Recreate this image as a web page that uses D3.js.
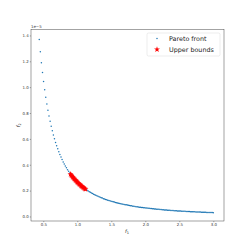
<!DOCTYPE html>
<html>
<head>
<meta charset="utf-8">
<script src="https://cdn.jsdelivr.net/npm/d3@7"></script>
<style>
  body { margin: 0; background: #fff; }
  svg { font-family: "DejaVu Sans", sans-serif; display: block; }
</style>
</head>
<body>
<div id="chart"></div>
<script>
// Pareto front, f2 in units of 1e-5
var paretoF1 = [0.440,0.456,0.472,0.488,0.504,0.520,0.536,0.552,0.568,0.584,0.600,0.616,0.632,0.648,0.664,0.680,0.696,0.712,0.728,0.744,
  0.760,0.776,0.792,0.808,0.824,0.840,0.856,0.872,0.888,0.904,0.920,0.936,0.952,0.968,0.984,1.000,1.016,1.032,1.048,1.064,
  1.080,1.096,1.112,1.128,1.144,1.160,1.176,1.192,1.208,1.224,1.240,1.256,1.272,1.288,1.304,1.320,1.336,1.352,1.368,1.384,
  1.400,1.416,1.432,1.448,1.464,1.480,1.496,1.512,1.528,1.544,1.560,1.576,1.592,1.608,1.624,1.640,1.656,1.672,1.688,1.704,
  1.720,1.736,1.752,1.768,1.784,1.800,1.816,1.832,1.848,1.864,1.880,1.896,1.912,1.928,1.944,1.960,1.976,1.992,2.008,2.024,
  2.040,2.056,2.072,2.088,2.104,2.120,2.136,2.152,2.168,2.184,2.200,2.216,2.232,2.248,2.264,2.280,2.296,2.312,2.328,2.344,
  2.360,2.376,2.392,2.408,2.424,2.440,2.456,2.472,2.488,2.504,2.520,2.536,2.552,2.568,2.584,2.600,2.616,2.632,2.648,2.664,
  2.680,2.696,2.712,2.728,2.744,2.760,2.776,2.792,2.808,2.824,2.840,2.856,2.872,2.888,2.904,2.920,2.936,2.952,2.968,2.984,3.000];
var paretoF2 = [1.369,1.274,1.189,1.113,1.043,0.980,0.922,0.870,0.821,0.777,0.736,0.698,0.663,0.631,0.601,0.573,0.547,0.523,0.500,0.479,
  0.459,0.440,0.422,0.406,0.390,0.376,0.362,0.349,0.336,0.324,0.313,0.302,0.292,0.283,0.274,0.265,0.257,0.249,0.241,0.234,
  0.227,0.221,0.214,0.208,0.202,0.197,0.192,0.187,0.182,0.177,0.172,0.168,0.164,0.160,0.156,0.152,0.148,0.145,0.142,0.138,
  0.135,0.132,0.129,0.126,0.124,0.121,0.118,0.116,0.114,0.111,0.109,0.107,0.105,0.102,0.100,0.099,0.097,0.095,0.093,0.091,
  0.090,0.088,0.086,0.085,0.083,0.082,0.080,0.079,0.078,0.076,0.075,0.074,0.072,0.071,0.070,0.069,0.068,0.067,0.066,0.065,
  0.064,0.063,0.062,0.061,0.060,0.059,0.058,0.057,0.056,0.056,0.055,0.054,0.053,0.052,0.052,0.051,0.050,0.050,0.049,0.048,
  0.048,0.047,0.046,0.046,0.045,0.045,0.044,0.043,0.043,0.042,0.042,0.041,0.041,0.040,0.040,0.039,0.039,0.038,0.038,0.037,
  0.037,0.036,0.036,0.036,0.035,0.035,0.034,0.034,0.034,0.033,0.033,0.032,0.032,0.032,0.031,0.031,0.031,0.030,0.030,0.030,0.029];

// upper bounds (red stars)
var boundF1 = [0.90,0.91,0.92,0.93,0.94,0.95,0.96,0.97,0.98,0.99,1.00,1.01,1.02,1.03,1.04,1.05,1.06,1.07,1.08,1.09,1.10,1.11,1.12];
var boundF2 = [0.327,0.320,0.313,0.306,0.300,0.294,0.288,0.282,0.276,0.270,0.265,0.260,0.255,0.250,0.245,0.240,0.236,0.231,0.227,0.223,0.219,0.215,0.211];

var xTicks = [0.5, 1.0, 1.5, 2.0, 2.5, 3.0];
var yTicks = [0.0, 0.2, 0.4, 0.6, 0.8, 1.0, 1.2, 1.4];
var legendLabels = ["Pareto front", "Upper bounds"];

var W = 249, H = 249;
var plotLeft = 31, plotRight = 224, plotTop = 29.5, plotBottom = 221;

var svg = d3.select("#chart").append("svg")
  .attr("width", W).attr("height", H);

var x = d3.scaleLinear().domain([0.319, 3.157]).range([plotLeft, plotRight]);
var y = d3.scaleLinear().domain([-0.035, 1.446]).range([plotBottom, plotTop]);

// axes
var xAxis = d3.axisBottom(x).tickValues(xTicks).tickFormat(d3.format(".1f"))
  .tickSizeInner(1.2).tickSizeOuter(0).tickPadding(1.2);
var yAxis = d3.axisLeft(y).tickValues(yTicks).tickFormat(d3.format(".1f"))
  .tickSizeInner(1.2).tickSizeOuter(0).tickPadding(1.2);

var gx = svg.append("g").attr("transform", "translate(0," + plotBottom + ")").call(xAxis);
var gy = svg.append("g").attr("transform", "translate(" + plotLeft + ",0)").call(yAxis);
[gx, gy].forEach(function(g) {
  g.select(".domain").remove();
  g.selectAll("line").attr("stroke", "#333").attr("stroke-width", 0.4);
  g.selectAll("text").attr("font-size", 3.9).attr("fill", "#333")
    .attr("font-family", "DejaVu Sans");
});

// frame
svg.append("rect")
  .attr("x", plotLeft).attr("y", plotTop)
  .attr("width", plotRight - plotLeft).attr("height", plotBottom - plotTop)
  .attr("fill", "none").attr("stroke", "#333").attr("stroke-width", 0.45);

// offset text
svg.append("text").attr("x", plotLeft).attr("y", plotTop - 2)
  .attr("font-size", 3.9).attr("fill", "#333").text("1e\u22125");

// axis labels
var xl = svg.append("text").attr("x", (plotLeft + plotRight) / 2 - 0.5).attr("y", 232.5)
  .attr("text-anchor", "middle").attr("font-size", 5).attr("fill", "#222");
xl.append("tspan").attr("font-style", "italic").text("f");
xl.append("tspan").attr("font-size", 3.5).attr("dy", 1).text("1");

var yl = svg.append("text")
  .attr("transform", "translate(20," + (plotTop + plotBottom) / 2 + ") rotate(-90)")
  .attr("text-anchor", "middle").attr("font-size", 5).attr("fill", "#222");
yl.append("tspan").attr("font-style", "italic").text("f");
yl.append("tspan").attr("font-size", 3.5).attr("dy", 1).text("2");

// pareto front points
svg.append("g").selectAll("circle")
  .data(paretoF1)
  .enter().append("circle")
  .attr("cx", function(d) { return x(d); })
  .attr("cy", function(d, i) { return y(paretoF2[i]); })
  .attr("r", 0.75)
  .attr("fill", "#1f77b4");

// upper bounds stars
var star = d3.symbol().type(d3.symbolStar).size(11);
svg.append("g").selectAll("path")
  .data(boundF1)
  .enter().append("path")
  .attr("d", star)
  .attr("transform", function(d, i) {
    return "translate(" + x(d) + "," + y(boundF2[i]) + ")";
  })
  .attr("fill", "#ff0000");

// legend
var legend = svg.append("g");
legend.append("rect")
  .attr("x", 147).attr("y", 33).attr("width", 73).attr("height", 23)
  .attr("rx", 1.5).attr("fill", "#fff").attr("fill-opacity", 0.8)
  .attr("stroke", "#d8d8d8").attr("stroke-width", 0.5);
legend.append("circle").attr("cx", 157).attr("cy", 38.5).attr("r", 0.75).attr("fill", "#1f77b4");
legend.append("path").attr("d", star)
  .attr("transform", "translate(157,49.5)").attr("fill", "#ff0000");
legend.selectAll("text.lab")
  .data(legendLabels)
  .enter().append("text")
  .attr("class", "lab")
  .attr("x", 169)
  .attr("y", function(d, i) { return 40.8 + i * 11; })
  .attr("font-size", 6.4).attr("fill", "#222")
  .text(function(d) { return d; });
</script>
</body>
</html>
